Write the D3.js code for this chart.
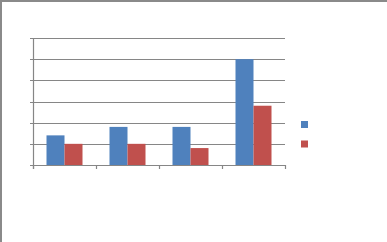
<!DOCTYPE html>
<html><head><meta charset="utf-8">
<script src="https://cdn.jsdelivr.net/npm/d3@7"></script>
<style>html,body{margin:0;padding:0;background:#fff;overflow:hidden}</style>
</head><body>
<svg id="c" width="387" height="242"></svg>
<script>
const categories = ["1", "2", "3", "4"];
const seriesNames = ["Series1", "Series2"];
const series1 = [1.4, 1.8, 1.8, 5.0];
const series2 = [1.0, 1.0, 0.8, 2.8];
const yTicks = [0, 1, 2, 3, 4, 5, 6];
const colors = ["#4F81BD", "#C0504D"];

(function () {
const svg = d3.select("#c");
svg.append("rect").attr("x", 1).attr("y", 1).attr("width", 400).attr("height", 260)
  .attr("fill", "#fff").attr("stroke", "#8a8a8a").attr("stroke-width", 2);

const pl = 33, pr = 285, pt = 38, pb = 165;
const x = d3.scaleBand().domain(categories).range([pl, pr]).paddingInner(0).paddingOuter(0);
const y = d3.scaleLinear().domain([0, 6]).range([pb, pt]);
const xs = d3.scaleBand().domain(seriesNames).range([0, x.bandwidth()]).paddingInner(0).paddingOuter(0.75);

svg.append("g").selectAll("line").data(yTicks).join("line")
  .attr("x1", pl - 3).attr("x2", pr)
  .attr("y1", d => Math.round(y(d)) + 0.5).attr("y2", d => Math.round(y(d)) + 0.5)
  .attr("stroke", "#868686").attr("stroke-width", 1.2);

svg.append("line").attr("x1", pl + 0.5).attr("x2", pl + 0.5)
  .attr("y1", pt).attr("y2", pb + 4).attr("stroke", "#868686").attr("stroke-width", 1.2);

svg.append("g").selectAll("line").data(categories.concat(["end"])).join("line")
  .attr("x1", (d, i) => Math.round(pl + i * x.step()) + 0.5)
  .attr("x2", (d, i) => Math.round(pl + i * x.step()) + 0.5)
  .attr("y1", pb).attr("y2", pb + 4)
  .attr("stroke", "#868686").attr("stroke-width", 1.2);

[series1, series2].forEach((vals, si) => {
  svg.append("g").selectAll("rect").data(vals).join("rect")
    .attr("x", (d, i) => x(categories[i]) + xs(seriesNames[si]))
    .attr("width", xs.bandwidth())
    .attr("y", d => y(d))
    .attr("height", d => y(0) - y(d))
    .attr("fill", colors[si]);
});

seriesNames.forEach((s, i) => {
  svg.append("rect").attr("x", 301).attr("y", 121 + i * 19.5).attr("width", 7).attr("height", 7)
    .attr("fill", colors[i]);
});
})();
</script>
</body></html>
